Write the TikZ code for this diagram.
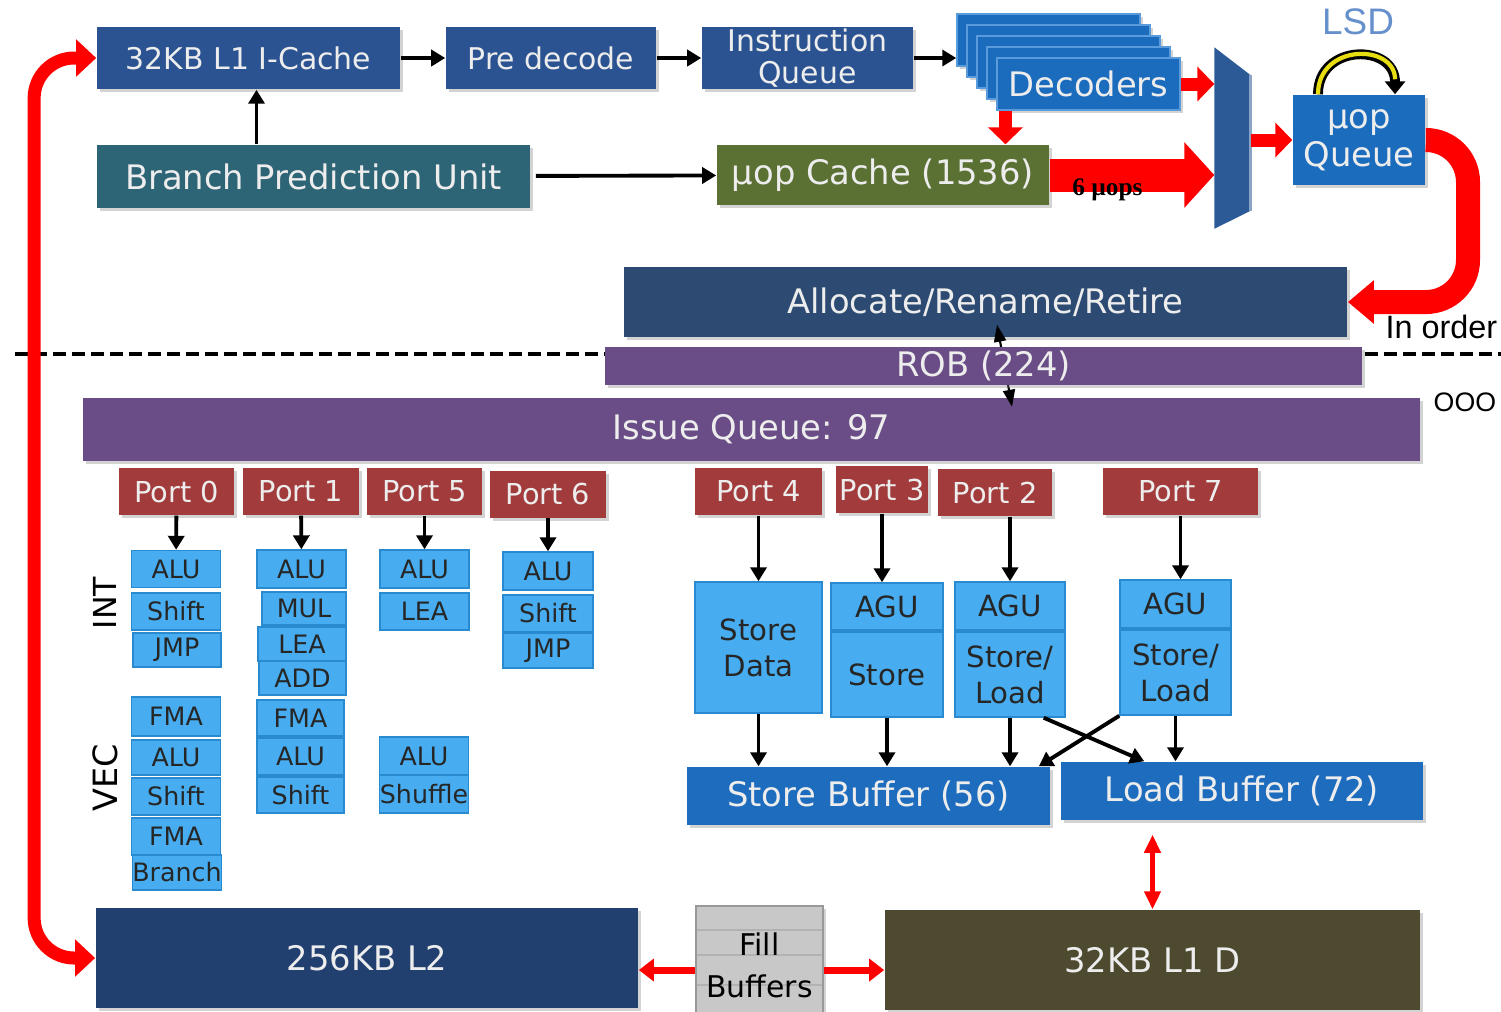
\documentclass[tikz,border=0pt]{standalone}
\usepackage{fontspec}
\setmainfont{DejaVu Sans}
\newfontfamily\arialfont{Liberation Sans}
\newfontfamily\timesfont{Liberation Serif}
\usetikzlibrary{arrows.meta,shadows}

\definecolor{cacheblue}{HTML}{2C5391}
\definecolor{decblue}{HTML}{1C6CBE}
\definecolor{decedge}{HTML}{5A9BDC}
\definecolor{bputeal}{HTML}{2E6576}
\definecolor{cachegreen}{HTML}{5B7133}
\definecolor{muxblue}{HTML}{2B5A96}
\definecolor{lsdblue}{HTML}{6690CC}
\definecolor{allocblue}{HTML}{2C4A72}
\definecolor{robpurple}{HTML}{6A4D86}
\definecolor{portred}{HTML}{A23B3B}
\definecolor{unitblue}{HTML}{47ADF0}
\definecolor{unitedge}{HTML}{2A8AD0}
\definecolor{bufblue}{HTML}{1D6CBD}
\definecolor{l2blue}{HTML}{21406F}
\definecolor{l1dolive}{HTML}{4E4A2F}
\definecolor{fillgray}{HTML}{C8C8C8}
\definecolor{loopyellow}{HTML}{E6DE10}

\begin{document}
\begin{tikzpicture}[x=0.01cm,y=-0.01cm,
    box/.style={rectangle,inner sep=0pt,text=white!93!black,align=center,
        font=\fontsize{9.6}{10.8}\selectfont,
        drop shadow={opacity=0.35,shadow xshift=0.03cm,shadow yshift=-0.03cm}},
    topbox/.style={box,fill=cacheblue,font=\fontsize{8.5}{9.1}\selectfont,minimum height=0.62cm},
    portbox/.style={box,fill=portred,font=\fontsize{8.2}{9}\selectfont,minimum height=0.47cm},
    unitbox/.style={rectangle,inner sep=0pt,fill=unitblue,draw=unitedge,line width=0.4pt,
        font=\fontsize{7.2}{8}\selectfont,text=black!85,minimum width=0.89cm,minimum height=0.37cm},
    memunit/.style={unitbox,font=\fontsize{8.3}{10.2}\selectfont,align=center},
    blk/.style={line width=1.1pt,-{Triangle[width=0.16cm,length=0.14cm]}},
    thinblk/.style={line width=0.6pt,{Triangle[width=0.12cm,length=0.17cm]}-{Triangle[width=0.12cm,length=0.17cm]}},
    redmid/.style={red,line width=0.13cm,-{Triangle[width=0.34cm,length=0.17cm]}},
    redfat/.style={red,line width=0.33cm,-{Triangle[width=0.64cm,length=0.3cm]}},
    redthin/.style={red,line width=1.2pt,{Triangle[width=0.16cm,length=0.18cm]}-{Triangle[width=0.16cm,length=0.18cm]}},
    redloop/.style={red,line width=0.13cm,{Triangle[width=0.36cm,length=0.2cm]}-{Triangle[width=0.36cm,length=0.2cm]}},
    redcurve/.style={red,line width=0.24cm,-{Triangle[width=0.42cm,length=0.26cm]}},
    muops/.style={font=\timesfont\bfseries\fontsize{7.2}{8}\selectfont,text=black},
    sidenote/.style={anchor=west,inner sep=0pt,font=\arialfont\fontsize{9.2}{11}\selectfont}]
    \useasboundingbox (0,0) rectangle (1501,1011);
    \clip (0,0) rectangle (1501,1011);

    % front end
    \node[topbox,minimum width=3.03cm] (icache) at (248.5,58) {32KB L1 I-Cache};
    \node[topbox,minimum width=2.10cm] (predec) at (551,58) {Pre decode};
    \node[topbox,minimum width=2.11cm] (instq) at (807.5,58) {Instruction\\Queue};
    \foreach \i in {4,3,2,1}
        \node[box,fill=decblue,draw=decedge,minimum width=1.83cm,minimum height=0.52cm] (dec\i) at ({1088.5-10*\i},{84-11*\i}) {};
    \node[box,fill=decblue,draw=decedge,minimum width=1.83cm,minimum height=0.52cm] (dec) at (1088.5,84) {Decoders};
    \node[box,fill=bputeal,minimum width=4.33cm,minimum height=0.63cm] (bpu) at (313.5,176.5) {Branch Prediction Unit};
    \node[box,fill=cachegreen,minimum width=3.32cm,minimum height=0.60cm] (uopc) at (883,175) {µop Cache (1536)};
    \node[minimum width=0.35cm,minimum height=1.80cm,inner sep=0pt] (mux) at (1232.5,138) {};
    \fill[muxblue] (mux.north west) -- ([yshift=-0.28cm]mux.north east) -- ([yshift=0.18cm]mux.south east) -- (mux.south west) -- cycle;
    \draw[muxblue!55!white,line width=1pt] ([yshift=-0.28cm]mux.north east) -- ([yshift=0.18cm]mux.south east);
    \node[box,fill=decblue,minimum width=1.32cm,minimum height=0.90cm] (uopq) at (1359,140) {µop\\Queue};
    \node[text=lsdblue,font=\arialfont\fontsize{10.5}{12}\selectfont] (lsd) at (1358,22) {LSD};

    \draw[blk] (icache) -- (predec);
    \draw[blk] (predec) -- (instq);
    \draw[blk] (instq) -- (instq -| dec4.west);
    \draw[blk] ([xshift=0.08cm]icache.south |- bpu.north) -- ([xshift=0.08cm]icache.south);
    \draw[blk,shorten <=0.05cm] (bpu) -- (uopc);
    \draw[redmid] (dec) -- (dec -| mux.west);
    \draw[redmid] ([xshift=-0.83cm]dec.south) -- ([xshift=-0.83cm]dec.south |- uopc.north);
    \draw[redfat] (uopc) -- node[muops,pos=0.35,yshift=-0.15cm] {6 µops} (uopc -| mux.west);
    \draw[redmid] (mux.east |- uopq) -- (uopq);
    % loop stream detector
    \draw[line width=2.8pt,-{Triangle[width=0.2cm,length=0.13cm]}] ([xshift=-0.41cm]uopq.north) to[out=90,in=90,looseness=1.7] ([xshift=0.36cm]uopq.north);
    \draw[loopyellow,line width=1.2pt,shorten >=0.15cm] ([xshift=-0.41cm]uopq.north) to[out=90,in=90,looseness=1.7] ([xshift=0.36cm]uopq.north);

    % back end
    \node[box,fill=allocblue,minimum width=7.23cm,minimum height=0.70cm] (alloc) at (985.5,302) {Allocate/Rename/Retire};
    \node[box,fill=robpurple,minimum width=13.37cm,minimum height=0.63cm] (issueq) at (751.5,429.5) {Issue Queue: 97};
    \draw[redcurve,rounded corners=0.42cm] (uopq.east) -| ([xshift=1.2cm]alloc.east) -- (alloc.east);
    \draw[line width=1.2pt,dash pattern=on 0.13cm off 0.06cm] (15,354) -- (1501,354);
    \draw[thinblk] ([shift={(0.115cm,0.13cm)}]alloc.south) -- ([shift={(0.265cm,-0.69cm)}]alloc.south);
    \node[box,fill=robpurple,minimum width=7.57cm,minimum height=0.38cm] (rob) at (983.5,366) {ROB (224)};
    \node[sidenote] (inorder) at (1385,327) {In order};
    \node[sidenote,font=\arialfont\fontsize{7.6}{9}\selectfont] (ooo) at (1433,402) {OOO};

    % ports
    \node[portbox,minimum width=1.15cm] (p0) at (176.5,491.5) {Port 0};
    \node[portbox,minimum width=1.16cm] (p1) at (301,491.5) {Port 1};
    \node[portbox,minimum width=1.15cm] (p5) at (424.5,491.5) {Port 5};
    \node[portbox,minimum width=1.16cm] (p6) at (548,494) {Port 6};
    \node[portbox,minimum width=1.27cm] (p4) at (758.5,491.5) {Port 4};
    \node[portbox,minimum width=0.92cm] (p3) at (882,489.5) {Port 3};
    \node[portbox,minimum width=1.14cm] (p2) at (995,492.5) {Port 2};
    \node[portbox,minimum width=1.55cm] (p7) at (1180.5,491.5) {Port 7};

    % execution units
    \node[rotate=90,font=\fontsize{9}{10}\selectfont] (intlab) at (105,603) {INT};
    \node[rotate=90,font=\fontsize{9.5}{10}\selectfont] (veclab) at (105,778) {VEC};
    \node[unitbox] (alu0) at (176,569) {ALU};
    \node[unitbox] (shf0) at (176,611.5) {Shift};
    \node[unitbox,minimum width=0.88cm,minimum height=0.34cm] (jmp0) at (177,650) {JMP};
    \node[unitbox,minimum height=0.39cm] (fma0) at (176,716.5) {FMA};
    \node[unitbox,minimum height=0.35cm] (valu0) at (176,757.5) {ALU};
    \node[unitbox] (vshf0) at (176,796.5) {Shift};
    \node[unitbox] (fmb0) at (176,836.5) {FMA};
    \node[unitbox,minimum height=0.35cm] (br0) at (177,872.5) {Branch};

    \node[unitbox,minimum height=0.38cm] (alu1) at (301.5,569) {ALU};
    \node[unitbox,minimum width=0.84cm,minimum height=0.33cm] (mul1) at (304,608.5) {MUL};
    \node[unitbox,minimum width=0.88cm,minimum height=0.34cm] (lea1) at (302,644) {LEA};
    \node[unitbox,minimum width=0.87cm,minimum height=0.34cm] (add1) at (302.5,678) {ADD};
    \node[unitbox,minimum width=0.87cm,minimum height=0.36cm] (fma1) at (300.5,718) {FMA};
    \node[unitbox,minimum width=0.87cm] (valu1) at (300.5,756.5) {ALU};
    \node[unitbox,minimum width=0.87cm,minimum height=0.36cm] (vshf1) at (300.5,795) {Shift};

    \node[unitbox,minimum height=0.38cm] (alu5) at (424.5,569) {ALU};
    \node[unitbox] (lea5) at (424.5,611.5) {LEA};
    \node[unitbox,minimum height=0.38cm] (valu5) at (424,756) {ALU};
    \node[unitbox,minimum height=0.38cm] (shuf5) at (424,794) {Shuffle};

    \node[unitbox,minimum width=0.90cm,minimum height=0.38cm] (alu6) at (548,571) {ALU};
    \node[unitbox,minimum width=0.90cm] (shf6) at (548,613.5) {Shift};
    \node[unitbox,minimum width=0.90cm,minimum height=0.35cm] (jmp6) at (548,650.5) {JMP};

    \draw[blk] (p0) -- (alu0);
    \draw[blk] (p1) -- (alu1);
    \draw[blk] (p5) -- (alu5);
    \draw[blk] (p6) -- (alu6);

    % memory units
    \node[memunit,minimum width=1.27cm,minimum height=1.31cm] (stdata) at (758.5,647.5) {Store\\Data};
    \node[memunit,minimum width=1.12cm,minimum height=0.47cm] (agu3) at (887,606.5) {AGU};
    \node[memunit,minimum width=1.12cm,minimum height=0.85cm] (st3) at (887,674.5) {Store};
    \node[memunit,minimum width=1.10cm,minimum height=0.48cm] (agu2) at (1010,606) {AGU};
    \node[memunit,minimum width=1.10cm,minimum height=0.85cm] (sl2) at (1010,674.5) {Store/\\Load};
    \node[memunit,minimum width=1.11cm,minimum height=0.48cm] (agu7) at (1175.5,604) {AGU};
    \node[memunit,minimum width=1.11cm,minimum height=0.85cm] (sl7) at (1175.5,672.5) {Store/\\Load};
    \node[box,fill=bufblue,minimum width=3.63cm,minimum height=0.58cm] (stbuf) at (868.5,796) {Store Buffer (56)};
    \node[box,fill=bufblue,minimum width=3.62cm,minimum height=0.58cm] (ldbuf) at (1242,791) {Load Buffer (72)};

    \draw[blk] (p4) -- (stdata);
    \draw[blk] (p3) -- (p3 |- agu3.north);
    \draw[blk] (agu2 |- p2.south) -- (agu2);
    \draw[blk] (p7) -- (p7 |- agu7.north);
    \draw[blk] (stdata) -- (stdata |- stbuf.north);
    \draw[blk] (st3) -- (st3 |- stbuf.north);
    \draw[blk] (sl2) -- (sl2 |- stbuf.north);
    \draw[blk] (sl7) -- (sl7 |- ldbuf.north);
    \draw[blk] ([xshift=-0.22cm]sl2.south east) -- ([xshift=0.84cm]ldbuf.north west);
    \draw[blk] (sl7.south west) -- ([xshift=-0.12cm]stbuf.north east);

    % caches
    \node[box,fill=l2blue,minimum width=5.42cm,minimum height=1.00cm] (l2) at (367,958) {256KB L2};
    \node[box,fill=fillgray,draw=gray!80,text=black,font=\fontsize{8.5}{12}\selectfont,minimum width=1.27cm,minimum height=1.18cm,
        path picture={
            \draw[gray!60] ([yshift=-0.24cm]path picture bounding box.north west) -- ([yshift=-0.24cm]path picture bounding box.north east);
            \draw[gray!60] ([yshift=-0.49cm]path picture bounding box.north west) -- ([yshift=-0.49cm]path picture bounding box.north east);
            \draw[gray!60] ([yshift=-0.79cm]path picture bounding box.north west) -- ([yshift=-0.79cm]path picture bounding box.north east);
        }] (fillbuf) at (759.5,965) {Fill\\Buffers};
    \node[box,fill=l1dolive,minimum width=5.35cm,minimum height=1.00cm] (l1d) at (1152.5,960) {32KB L1 D};

    \draw[redmid,line width=0.07cm,-{Triangle[width=0.22cm,length=0.15cm]}] ([yshift=-0.05cm]fillbuf.west) -- ([yshift=-0.05cm]fillbuf.west -| l2.east);
    \draw[redmid,line width=0.07cm,-{Triangle[width=0.22cm,length=0.15cm]}] ([yshift=-0.05cm]fillbuf.east) -- ([yshift=-0.05cm]fillbuf.east -| l1d.west);
    \draw[redthin,shorten <=0.14cm] (l1d.north |- ldbuf.south) -- (l1d.north);
    \draw[redloop,rounded corners=0.4cm] (l2.west) -- ++(-61,0) |- (icache.west);
\end{tikzpicture}
\end{document}
